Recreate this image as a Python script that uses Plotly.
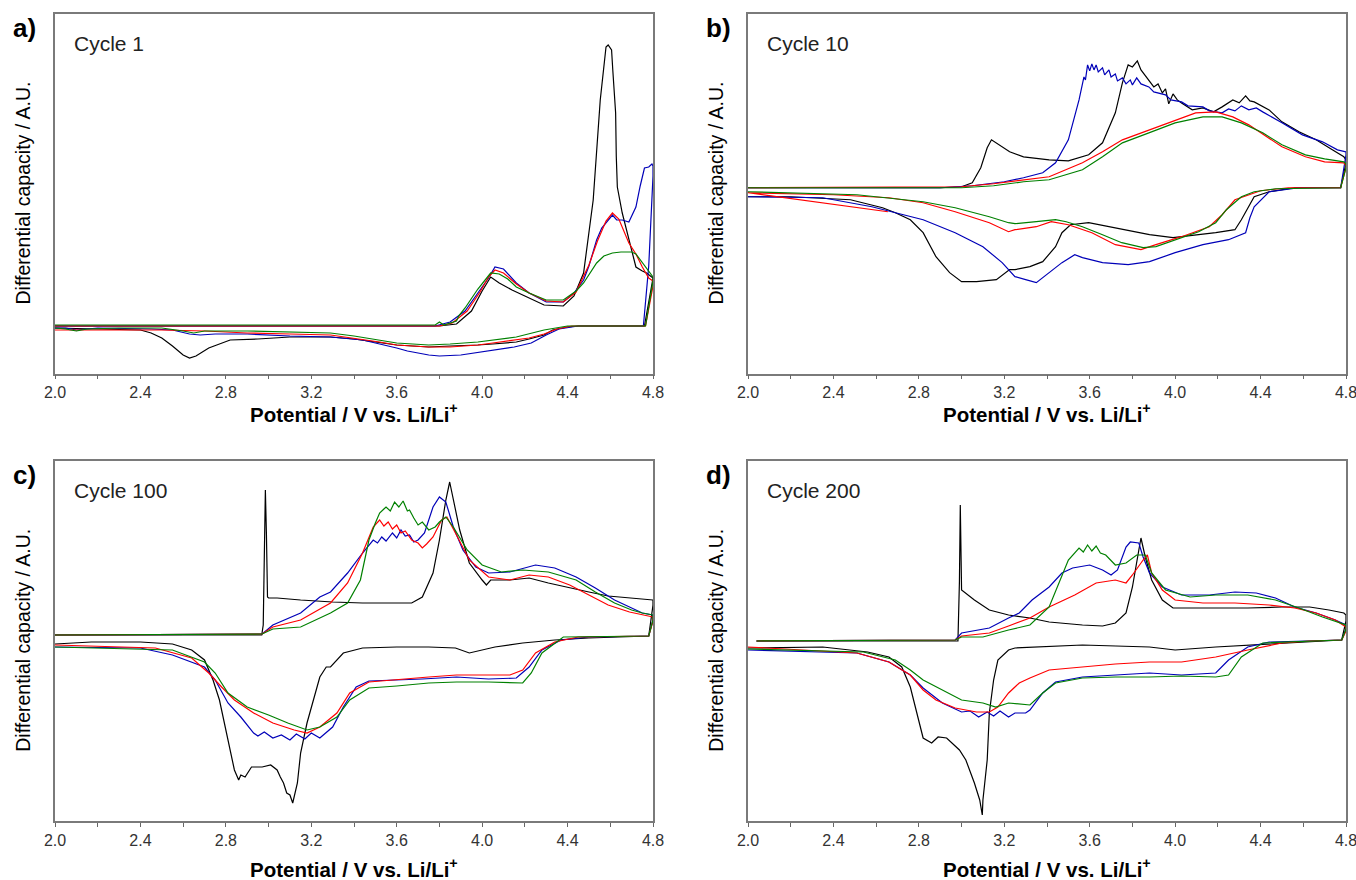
import plotly.graph_objects as go

# ---------------- data (potential V, differential capacity A.U.) ----------------
# Panel a) Cycle 1  (loops: charge 2.0 -> 4.8, then discharge 4.8 -> 2.0)
a_black_v = [2.0, 3.80, 3.88, 3.95, 4.0, 4.04, 4.08, 4.14, 4.2, 4.29, 4.38, 4.43, 4.475, 4.52, 4.553, 4.58, 4.59, 4.606, 4.612, 4.617, 4.625, 4.628, 4.633, 4.656, 4.687, 4.72, 4.75, 4.77, 4.80,
             4.80, 4.76, 4.45, 4.40, 4.33, 4.29, 4.22, 4.16, 4.05, 3.98, 3.85, 3.75, 3.6, 3.5, 3.4, 3.29, 3.1, 2.95, 2.82, 2.72, 2.66, 2.63, 2.60, 2.55, 2.5, 2.45, 2.4, 2.2, 2.0]
a_black_y = [0, 0, 2, 15, 35, 49, 43, 36, 30, 21, 20, 30, 53, 126, 226, 279, 281, 276, 255, 239, 213, 170, 139, 113, 86, 59, 55, 53, 48,
             48, 0, 0, -1, -4, -9, -13, -16, -18, -19, -20, -21, -19, -16, -13, -11, -11, -13, -14, -22, -30, -32, -29, -20, -12, -7, -4, -3, -2]
a_blue_v = [2.0, 3.78, 3.85, 3.92, 3.98, 4.03, 4.06, 4.10, 4.16, 4.22, 4.30, 4.38, 4.43, 4.475, 4.50, 4.536, 4.56, 4.58, 4.61, 4.63, 4.656, 4.687, 4.70, 4.72, 4.74, 4.76, 4.78, 4.795, 4.80,
            4.80, 4.78, 4.755, 4.45, 4.36, 4.30, 4.23, 4.15, 4.06, 3.95, 3.90, 3.8, 3.75, 3.65, 3.6, 3.5, 3.44, 3.29, 3.1, 2.9, 2.75, 2.68, 2.63, 2.55, 2.45, 2.2, 2.1, 2.05, 2.0]
a_blue_y = [0, 0, 4, 15, 33, 48, 59, 57, 43, 33, 24, 24, 33, 46, 60, 86, 98, 103, 111, 106, 106, 104, 110, 119, 140, 158, 159, 162, 160,
            150, 60, 0, 0, -3, -9, -17, -21, -24, -28, -29, -30, -29, -25, -22, -17, -14, -11, -10, -8, -8, -9, -8, -4, -3, -2, -4, -2, -2]
a_red_v = [2.0, 3.80, 3.86, 3.93, 3.99, 4.03, 4.06, 4.10, 4.16, 4.22, 4.30, 4.38, 4.44, 4.50, 4.54, 4.58, 4.61, 4.64, 4.687, 4.72, 4.75, 4.78, 4.80,
           4.80, 4.765, 4.42, 4.35, 4.29, 4.22, 4.16, 4.05, 3.98, 3.85, 3.75, 3.6, 3.52, 3.4, 3.29, 3.1, 2.9, 2.7, 2.5, 2.3, 2.0]
a_red_y = [0, 0, 3, 15, 34, 49, 56, 53, 42, 33, 25, 24, 34, 61, 85, 105, 113, 107, 83, 72, 59, 48, 45,
           40, 0, 0, -3, -8, -12, -14, -17, -19, -21, -21, -19, -16, -12, -9, -8, -7, -5, -4, -4, -4]
a_green_v = [2.0, 3.78, 3.80, 3.82, 3.88, 3.89, 3.92, 3.98, 4.04, 4.08, 4.12, 4.16, 4.22, 4.30, 4.38, 4.44, 4.475, 4.51, 4.536, 4.57, 4.61, 4.65, 4.70, 4.72, 4.75, 4.78, 4.80,
             4.80, 4.765, 4.40, 4.29, 4.16, 4.05, 3.98, 3.85, 3.75, 3.6, 3.52, 3.4, 3.29, 3.1, 2.9, 2.7, 2.65, 2.6, 2.5, 2.3, 2.15, 2.1, 2.05, 2.0]
a_green_y = [1, 1, 4, 1, 5, 10, 18, 37, 53, 52, 47, 39, 33, 26, 26, 35, 43, 55, 63, 70, 73, 74, 74, 72, 63, 55, 49,
             45, 0, 0, -4, -11, -14, -16, -18, -19, -17, -14, -10, -7, -6, -5, -5, -7, -5, -2, -2, -3, -5, -3, -2]

# Panel b) Cycle 10
b_black_v = [2.0, 2.9, 3.0, 3.05, 3.09, 3.12, 3.14, 3.17, 3.19, 3.225, 3.29, 3.41, 3.50, 3.595, 3.66, 3.72, 3.753, 3.78, 3.80, 3.823, 3.84, 3.86, 3.88, 3.90, 3.92, 3.94, 3.955, 3.97, 3.99, 4.01, 4.03, 4.08, 4.13, 4.18, 4.22, 4.27, 4.30, 4.33, 4.35, 4.37, 4.44, 4.50, 4.58, 4.66, 4.736, 4.79, 4.80,
             4.80, 4.775, 4.56, 4.44, 4.37, 4.31, 4.28, 4.19, 4.10, 3.99, 3.88, 3.72, 3.595, 3.51, 3.47, 3.44, 3.38, 3.32, 3.25, 3.225, 3.163, 3.07, 3.0, 2.944, 2.88, 2.82, 2.76, 2.69, 2.63, 2.48, 2.2, 2.0]
b_black_y = [0, 0, 1, 5, 20, 40, 48, 44, 41, 36, 31, 28, 27, 33, 45, 75, 105, 123, 121, 127, 118, 112, 106, 101, 104, 95, 99, 84, 94, 88, 85, 78, 80, 76, 81, 88, 85, 92, 87, 86, 78, 66, 56, 48, 38, 31, 28,
             25, 0, 0, -4, -9, -32, -42, -45, -47, -50, -47, -40, -35, -37, -45, -59, -74, -79, -82, -82, -92, -94, -94, -85, -69, -45, -32, -25, -20, -12, -9, -9]
b_blue_v = [2.0, 2.9, 3.05, 3.2, 3.29, 3.38, 3.44, 3.50, 3.55, 3.573, 3.58, 3.59, 3.60, 3.61, 3.62, 3.63, 3.64, 3.66, 3.67, 3.69, 3.70, 3.72, 3.73, 3.753, 3.77, 3.79, 3.80, 3.82, 3.84, 3.877, 3.90, 3.955, 3.98, 4.03, 4.06, 4.13, 4.16, 4.22, 4.25, 4.28, 4.31, 4.345, 4.38, 4.41, 4.50, 4.596, 4.69, 4.76, 4.80,
            4.80, 4.775, 4.58, 4.44, 4.37, 4.35, 4.33, 4.25, 4.13, 4.0, 3.88, 3.78, 3.66, 3.566, 3.53, 3.47, 3.41, 3.35, 3.30, 3.25, 3.19, 3.10, 2.97, 2.82, 2.58, 2.35, 2.0]
b_blue_y = [0, 0, 2, 6, 10, 15, 25, 48, 88, 111, 108, 123, 117, 124, 118, 123, 116, 120, 113, 118, 111, 114, 107, 110, 104, 108, 103, 110, 104, 101, 96, 93, 88, 86, 82, 81, 77, 75, 79, 77, 82, 78, 80, 76, 65, 53, 46, 38, 36,
            33, 0, 0, -4, -19, -30, -45, -52, -57, -65, -74, -77, -75, -70, -67, -75, -85, -95, -92, -89, -75, -59, -45, -32, -19, -10, -9]
b_red_v = [2.0, 3.0, 3.15, 3.29, 3.41, 3.566, 3.66, 3.753, 3.877, 4.0, 4.096, 4.19, 4.27, 4.345, 4.43, 4.50, 4.61, 4.70, 4.79, 4.80,
           4.80, 4.775, 4.53, 4.40, 4.28, 4.22, 4.16, 4.03, 3.91, 3.84, 3.72, 3.61, 3.50, 3.42, 3.35, 3.25, 3.22, 3.13, 2.97, 2.82, 2.66, 2.4, 2.0, 2.655]
b_red_y = [0, 1, 4, 8, 11, 25, 36, 48, 58, 68, 75, 76, 71, 63, 51, 41, 31, 26, 25, 22,
           20, 0, 0, -3, -12, -27, -39, -49, -57, -62, -57, -45, -37, -34, -39, -42, -44, -35, -24, -15, -10, -7, -5, -24]
b_green_v = [2.0, 3.0, 3.15, 3.29, 3.41, 3.566, 3.66, 3.753, 3.877, 4.0, 4.13, 4.22, 4.31, 4.41, 4.50, 4.61, 4.70, 4.79, 4.80,
             4.80, 4.775, 4.47, 4.37, 4.31, 4.24, 4.19, 4.11, 4.0, 3.91, 3.85, 3.75, 3.66, 3.566, 3.49, 3.44, 3.35, 3.25, 3.22, 3.13, 2.97, 2.82, 2.51, 2.0]
b_green_y = [0, 0, 2, 6, 8, 18, 31, 45, 55, 65, 71, 71, 65, 55, 43, 33, 29, 26, 24,
             20, 0, -1, -4, -9, -22, -35, -44, -52, -59, -60, -55, -47, -39, -34, -32, -34, -36, -35, -29, -20, -14, -7, -4]

# Panel c) Cycle 100
c_black_v = [2.0, 2.968, 2.975, 2.98, 2.985, 2.99, 2.995, 3.0, 3.04, 3.15, 3.30, 3.44, 3.6, 3.67, 3.72, 3.77, 3.80, 3.83, 3.848, 3.865, 3.895, 3.94, 3.97, 4.0, 4.02, 4.04, 4.13, 4.22, 4.31, 4.41, 4.50, 4.59, 4.69, 4.75, 4.80,
             4.80, 4.78, 4.5, 4.34, 4.19, 4.06, 3.94, 3.875, 3.75, 3.6, 3.44, 3.35, 3.29, 3.27, 3.24, 3.21, 3.18, 3.15, 3.135, 3.113, 3.10, 3.085, 3.07, 3.055, 3.04, 3.01, 2.97, 2.92, 2.89, 2.87, 2.86, 2.84, 2.83, 2.80, 2.77, 2.74, 2.70, 2.64, 2.55, 2.4, 2.17, 2.0]
c_black_y = [0, 0, 10, 80, 145, 100, 38, 37, 37, 35, 33, 32, 32, 32, 38, 62, 95, 135, 153, 135, 105, 72, 63, 55, 50, 55, 55, 57, 52, 47, 43, 39, 37, 36, 35,
             30, -1, -3, -5, -8, -12, -18, -13, -12, -12, -13, -18, -32, -32, -42, -65, -88, -118, -148, -168, -160, -158, -148, -142, -135, -130, -132, -132, -142, -140, -145, -135, -125, -95, -65, -45, -25, -15, -9, -7, -7, -9]
c_blue_v = [2.0, 2.97, 3.02, 3.15, 3.24, 3.29, 3.37, 3.44, 3.49, 3.51, 3.53, 3.55, 3.58, 3.6, 3.62, 3.64, 3.66, 3.68, 3.70, 3.73, 3.77, 3.80, 3.83, 3.865, 3.91, 3.97, 4.03, 4.13, 4.25, 4.34, 4.44, 4.53, 4.62, 4.70, 4.75, 4.80,
            4.80, 4.78, 4.5, 4.37, 4.28, 4.22, 4.16, 4.03, 3.88, 3.72, 3.6, 3.47, 3.41, 3.35, 3.30, 3.24, 3.20, 3.17, 3.13, 3.10, 3.06, 3.02, 2.98, 2.95, 2.93, 2.87, 2.81, 2.75, 2.70, 2.55, 2.4, 2.0]
c_blue_y = [0, 1, 10, 22, 38, 43, 62, 82, 95, 92, 98, 94, 102, 97, 105, 99, 100, 93, 95, 102, 128, 138, 133, 108, 85, 68, 62, 63, 70, 67, 58, 47, 35, 27, 22, 20,
            15, -1, -2, -5, -15, -32, -43, -44, -42, -44, -45, -46, -52, -72, -92, -103, -98, -104, -99, -105, -100, -103, -97, -101, -98, -82, -68, -45, -32, -20, -13, -12]
c_red_v = [2.0, 2.97, 3.02, 3.15, 3.29, 3.37, 3.44, 3.49, 3.52, 3.54, 3.56, 3.58, 3.6, 3.62, 3.64, 3.67, 3.70, 3.72, 3.74, 3.77, 3.81, 3.835, 3.875, 3.94, 4.03, 4.13, 4.22, 4.31, 4.41, 4.50, 4.59, 4.69, 4.75, 4.80,
           4.80, 4.78, 4.45, 4.34, 4.25, 4.19, 4.13, 4.03, 3.88, 3.75, 3.6, 3.47, 3.38, 3.32, 3.24, 3.18, 3.12, 3.02, 2.93, 2.84, 2.78, 2.72, 2.64, 2.47, 2.0]
c_red_y = [0, 1, 8, 15, 32, 52, 82, 108, 115, 109, 113, 106, 110, 102, 104, 95, 92, 87, 91, 98, 115, 118, 102, 75, 58, 55, 60, 58, 50, 40, 30, 23, 20, 18,
           14, -1, -2, -7, -18, -35, -40, -40, -40, -42, -45, -47, -58, -78, -92, -98, -95, -88, -78, -65, -52, -38, -23, -13, -10]
c_green_v = [2.0, 2.97, 3.02, 3.15, 3.29, 3.37, 3.43, 3.47, 3.50, 3.52, 3.54, 3.55, 3.57, 3.59, 3.61, 3.63, 3.65, 3.66, 3.68, 3.70, 3.72, 3.75, 3.78, 3.80, 3.83, 3.865, 3.93, 4.0, 4.09, 4.19, 4.31, 4.44, 4.53, 4.62, 4.70, 4.75, 4.80,
             4.80, 4.78, 4.38, 4.28, 4.23, 4.19, 4.03, 3.88, 3.75, 3.6, 3.47, 3.38, 3.32, 3.24, 3.18, 3.09, 3.0, 2.9, 2.81, 2.75, 2.70, 2.55, 2.0]
c_green_y = [0, 1, 6, 8, 22, 32, 55, 95, 112, 122, 126, 128, 124, 133, 128, 134, 124, 125, 117, 110, 113, 105, 108, 113, 118, 108, 85, 70, 63, 65, 63, 55, 43, 32, 25, 22, 20,
             15, -1, -2, -18, -38, -48, -47, -47, -48, -51, -53, -65, -82, -92, -95, -88, -80, -72, -58, -38, -27, -15, -12]

# Panel d) Cycle 200
d_black_v = [2.04, 2.983, 2.99, 2.994, 2.998, 3.0, 3.06, 3.13, 3.22, 3.32, 3.41, 3.566, 3.66, 3.72, 3.77, 3.80, 3.83, 3.84, 3.86, 3.89, 3.94, 3.99, 4.07, 4.19, 4.34, 4.50, 4.63, 4.72, 4.79, 4.80,
             4.80, 4.78, 4.50, 4.19, 4.0, 3.88, 3.566, 3.25, 3.22, 3.17, 3.15, 3.13, 3.12, 3.10, 3.097, 3.085, 3.06, 3.02, 2.99, 2.93, 2.89, 2.86, 2.82, 2.79, 2.76, 2.72, 2.66, 2.56, 2.35, 2.0]
d_black_y = [0, 0, 60, 136, 80, 51, 41, 31, 26, 23, 19, 16, 15, 18, 28, 54, 91, 103, 84, 61, 41, 33, 33, 33, 33, 34, 34, 31, 28, 26,
             20, 1, -2, -6, -9, -6, -4, -7, -9, -19, -39, -72, -119, -159, -174, -159, -142, -119, -109, -97, -96, -102, -97, -72, -46, -26, -16, -11, -6, -7]
d_blue_v = [2.04, 2.97, 3.0, 3.13, 3.22, 3.27, 3.33, 3.41, 3.47, 3.52, 3.6, 3.66, 3.70, 3.73, 3.77, 3.79, 3.83, 3.85, 3.88, 3.94, 4.03, 4.16, 4.28, 4.38, 4.47, 4.56, 4.66, 4.75, 4.80,
            4.80, 4.78, 4.44, 4.34, 4.25, 4.19, 4.03, 3.88, 3.72, 3.566, 3.44, 3.38, 3.32, 3.30, 3.25, 3.22, 3.18, 3.15, 3.12, 3.08, 3.04, 3.0, 2.91, 2.82, 2.76, 2.66, 2.51, 2.0]
d_blue_y = [0, 1, 8, 13, 23, 28, 41, 54, 68, 73, 76, 71, 66, 71, 94, 99, 98, 84, 68, 54, 46, 46, 49, 48, 43, 34, 28, 21, 16,
            12, 1, -1, -6, -19, -32, -34, -32, -34, -36, -41, -52, -69, -72, -72, -76, -70, -75, -71, -76, -70, -71, -62, -47, -34, -21, -12, -9]
d_red_v = [2.04, 2.97, 3.0, 3.13, 3.22, 3.32, 3.41, 3.53, 3.63, 3.72, 3.77, 3.80, 3.85, 3.87, 3.89, 3.94, 4.0, 4.13, 4.28, 4.44, 4.56, 4.66, 4.75, 4.80,
           4.80, 4.78, 4.63, 4.5, 4.34, 4.19, 4.03, 3.88, 3.72, 3.566, 3.41, 3.32, 3.27, 3.22, 3.17, 3.13, 3.07, 2.97, 2.88, 2.82, 2.76, 2.66, 2.51, 2.0]
d_red_y = [0, 1, 5, 8, 15, 23, 34, 46, 58, 61, 58, 66, 81, 86, 68, 51, 41, 38, 38, 36, 33, 28, 21, 14,
           10, 1, 0, -2, -9, -16, -21, -21, -23, -26, -29, -37, -42, -52, -66, -71, -71, -67, -59, -49, -34, -21, -12, -6]
d_green_v = [2.04, 2.97, 3.0, 3.1, 3.22, 3.32, 3.41, 3.46, 3.50, 3.55, 3.57, 3.59, 3.61, 3.63, 3.65, 3.675, 3.72, 3.77, 3.82, 3.86, 3.89, 3.955, 4.07, 4.19, 4.34, 4.47, 4.58, 4.69, 4.80,
             4.80, 4.78, 4.41, 4.31, 4.25, 4.19, 4.03, 3.88, 3.72, 3.566, 3.44, 3.38, 3.32, 3.22, 3.16, 3.1, 3.0, 2.91, 2.82, 2.76, 2.69, 2.54, 2.0]
d_green_y = [0, 1, 4, 4, 11, 16, 34, 61, 81, 93, 89, 96, 90, 95, 88, 86, 76, 78, 86, 86, 68, 51, 44, 46, 46, 41, 33, 24, 16,
             12, 1, -2, -16, -34, -36, -35, -36, -36, -37, -42, -52, -64, -62, -66, -62, -59, -49, -39, -29, -19, -11, -8]

tick_vals = [2.0, 2.4, 2.8, 3.2, 3.6, 4.0, 4.4, 4.8]
tick_text = ["2.0", "2.4", "2.8", "3.2", "3.6", "4.0", "4.4", "4.8"]
minor_vals = [2.2, 2.6, 3.0, 3.4, 3.8, 4.2, 4.6]
panel_labels = ["a)", "b)", "c)", "d)"]
cycle_labels = ["Cycle 1", "Cycle 10", "Cycle 100", "Cycle 200"]
series_colors = ["#000000", "#0000b8", "#ff0000", "#008000"]

panels = [
    [(a_black_v, a_black_y), (a_blue_v, a_blue_y), (a_red_v, a_red_y), (a_green_v, a_green_y)],
    [(b_black_v, b_black_y), (b_blue_v, b_blue_y), (b_red_v, b_red_y), (b_green_v, b_green_y)],
    [(c_black_v, c_black_y), (c_blue_v, c_blue_y), (c_red_v, c_red_y), (c_green_v, c_green_y)],
    [(d_black_v, d_black_y), (d_blue_v, d_blue_y), (d_red_v, d_red_y), (d_green_v, d_green_y)],
]
for pi, series in enumerate(panels):
    for si, (v, y) in enumerate(series):
        assert len(v) == len(y), (pi, si, len(v), len(y))

# ---------------- layout geometry (pixels) ----------------
W, H = 1356, 880
boxes = [  # left, right, top, bottom
    (55, 653, 13.5, 373.5),
    (748, 1346, 13.5, 373.5),
    (55, 653, 460.5, 821),
    (748, 1346, 460.5, 821),
]
xtitle_y = [413, 413, 868, 868]
y_ranges = [(-47.5, 312.5), (-186, 174.5), (-186, 174.5), (-180, 180.5)]

FONT = "Arial, Liberation Sans, sans-serif"
fig = go.Figure()
layout = dict(width=W, height=H, margin=dict(l=0, r=0, t=0, b=0, pad=0, autoexpand=False),
              paper_bgcolor="white", plot_bgcolor="white", showlegend=False)
annotations = []

for i, (series, box, yr) in enumerate(zip(panels, boxes, y_ranges)):
    n = "" if i == 0 else str(i + 1)
    L, R, T, B = box
    for (v, y), col in zip(series, series_colors):
        fig.add_trace(go.Scatter(x=v, y=y, mode="lines", xaxis="x" + n, yaxis="y" + n,
                                 line=dict(color=col, width=1.2), hoverinfo="skip"))
    layout["xaxis" + n] = dict(
        domain=[L / W, R / W], anchor="y" + n, range=[2.0, 4.8], automargin=False,
        tickmode="array", tickvals=tick_vals, ticktext=tick_text, ticklabeloverflow="allow",
        ticks="outside", ticklen=4, tickcolor="#666", tickwidth=1,
        minor=dict(tickmode="array", tickvals=minor_vals, ticks="outside", ticklen=4, tickcolor="#666"),
        showline=True, linecolor="#7a7a7a", linewidth=1.5, mirror=True,
        showgrid=False, zeroline=False,
        tickfont=dict(family=FONT, size=16, color="#333"),
    )
    layout["yaxis" + n] = dict(
        domain=[1 - B / H, 1 - T / H], anchor="x" + n, range=list(yr), automargin=False,
        showticklabels=False, ticks="", showline=True, linecolor="#7a7a7a", linewidth=1.5,
        mirror=True, showgrid=False, zeroline=False,
    )
    # panel letter
    annotations.append(dict(text="<b>" + panel_labels[i] + "</b>", xref="paper", yref="paper",
                            x=(L - 44) / W, y=1 - (T + 15) / H, xanchor="left", yanchor="middle",
                            showarrow=False, font=dict(family=FONT, size=26, color="black")))
    # cycle label
    annotations.append(dict(text=cycle_labels[i], xref="paper", yref="paper",
                            x=(L + 17) / W, y=1 - (T + 30) / H, xanchor="left", yanchor="middle",
                            showarrow=False, font=dict(family=FONT, size=21, color="#222")))
    # y title
    annotations.append(dict(text="Differential capacity / A.U.", xref="paper", yref="paper",
                            x=(L - 32) / W, y=1 - ((T + B) / 2) / H, xanchor="center", yanchor="middle",
                            textangle=-90, showarrow=False, font=dict(family=FONT, size=19.5, color="black")))
    # x title
    annotations.append(dict(text="<b>Potential / V vs. Li/Li<sup>+</sup></b>", xref="paper", yref="paper",
                            x=((L + R) / 2) / W, y=1 - xtitle_y[i] / H, xanchor="center", yanchor="middle",
                            showarrow=False, font=dict(family=FONT, size=20.5, color="black")))

layout["annotations"] = annotations
fig.update_layout(**layout)
fig.write_html("out.html", config={"displayModeBar": False},
               post_script="document.body.style.margin='0px'; document.body.style.overflow='hidden';")
